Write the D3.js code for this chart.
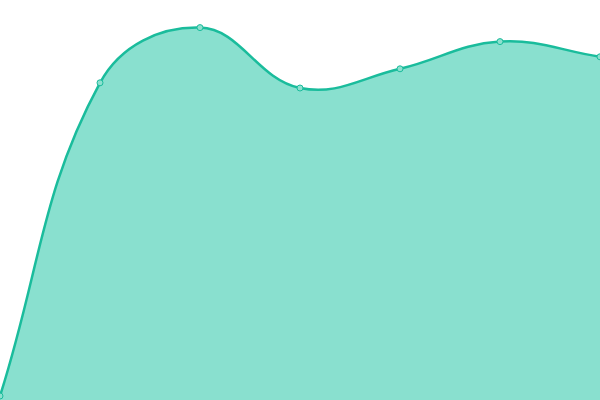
<!DOCTYPE html>
<html>
<head>
<meta charset="utf-8">
<script src="https://cdn.jsdelivr.net/npm/d3@7"></script>
<style>
    html, body { margin: 0; padding: 0; background: #ffffff; }
    svg { display: block; }
</style>
</head>
<body>
<div id="vis"></div>
<script>
'use strict';

//data
var categories = ['1', '2', '3', '4', '5', '6', '7'];
var values = [1, 79.3, 93.1, 78, 82.8, 89.6, 85.8];
var yDomain = [0, 100];

//layout
var dim = { w: 600, h: 400 };
var tension = 0.4;

//vis color
var colors = { line: '#1abc9c', fill: '#89e0cf', point: '#8ee0cf' };

var x = d3.scalePoint().domain(categories).range([0, dim.w]);
var y = d3.scaleLinear().domain(yDomain).range([dim.h, 0]);

//spline with distance weighted control points, like the chart the picture came from
function SplineCurve(context) { this._context = context; }
SplineCurve.prototype = {
    areaStart: function () { this._line = 0; },
    areaEnd: function () { this._line = NaN; },
    lineStart: function () { this._pts = []; },
    point: function (px, py) { this._pts.push([+px, +py]); },
    lineEnd: function () {
        var p = this._pts, n = p.length, ctx = this._context;
        if (n) {
            if (this._line) ctx.lineTo(p[0][0], p[0][1]);
            else ctx.moveTo(p[0][0], p[0][1]);
        }
        var ctrl = p.map(function (cur, i) {
            var prev = p[i - 1] || cur, next = p[i + 1] || cur;
            var d01 = Math.hypot(cur[0] - prev[0], cur[1] - prev[1]);
            var d12 = Math.hypot(next[0] - cur[0], next[1] - cur[1]);
            var s = d01 + d12 || 1;
            var fa = tension * d01 / s, fb = tension * d12 / s;
            var dx = next[0] - prev[0], dy = next[1] - prev[1];
            return {
                prev: [cur[0] - fa * dx, cur[1] - fa * dy],
                next: [cur[0] + fb * dx, cur[1] + fb * dy]
            };
        });
        for (var i = 1; i < n; i++) {
            ctx.bezierCurveTo(ctrl[i - 1].next[0], ctrl[i - 1].next[1],
                ctrl[i].prev[0], ctrl[i].prev[1], p[i][0], p[i][1]);
        }
        if (this._line || (this._line !== 0 && n === 1)) ctx.closePath();
        this._line = 1 - this._line;
    }
};
function curveSpline(context) { return new SplineCurve(context); }

var data = categories.map(function (c, i) { return { cat: c, value: values[i] }; });

var svg = d3.select('#vis')
    .append('svg')
    .attr('width', dim.w)
    .attr('height', dim.h);

//area
var area = d3.area()
    .x(function (d) { return x(d.cat); })
    .y0(y(yDomain[0]))
    .y1(function (d) { return y(d.value); })
    .curve(curveSpline);
svg.append('path')
    .datum(data)
    .attr('d', area)
    .attr('fill', colors.fill);

//line
var line = d3.line()
    .x(function (d) { return x(d.cat); })
    .y(function (d) { return y(d.value); })
    .curve(curveSpline);
svg.append('path')
    .datum(data)
    .attr('d', line)
    .attr('fill', 'none')
    .attr('stroke', colors.line)
    .attr('stroke-width', 2.5);

//points
svg.selectAll('.pt')
    .data(data)
    .enter()
    .append('circle')
    .attr('class', 'pt')
    .attr('cx', function (d) { return x(d.cat); })
    .attr('cy', function (d) { return y(d.value); })
    .attr('r', 3)
    .attr('fill', colors.point)
    .attr('stroke', colors.line)
    .attr('stroke-width', 1);
</script>
</body>
</html>
